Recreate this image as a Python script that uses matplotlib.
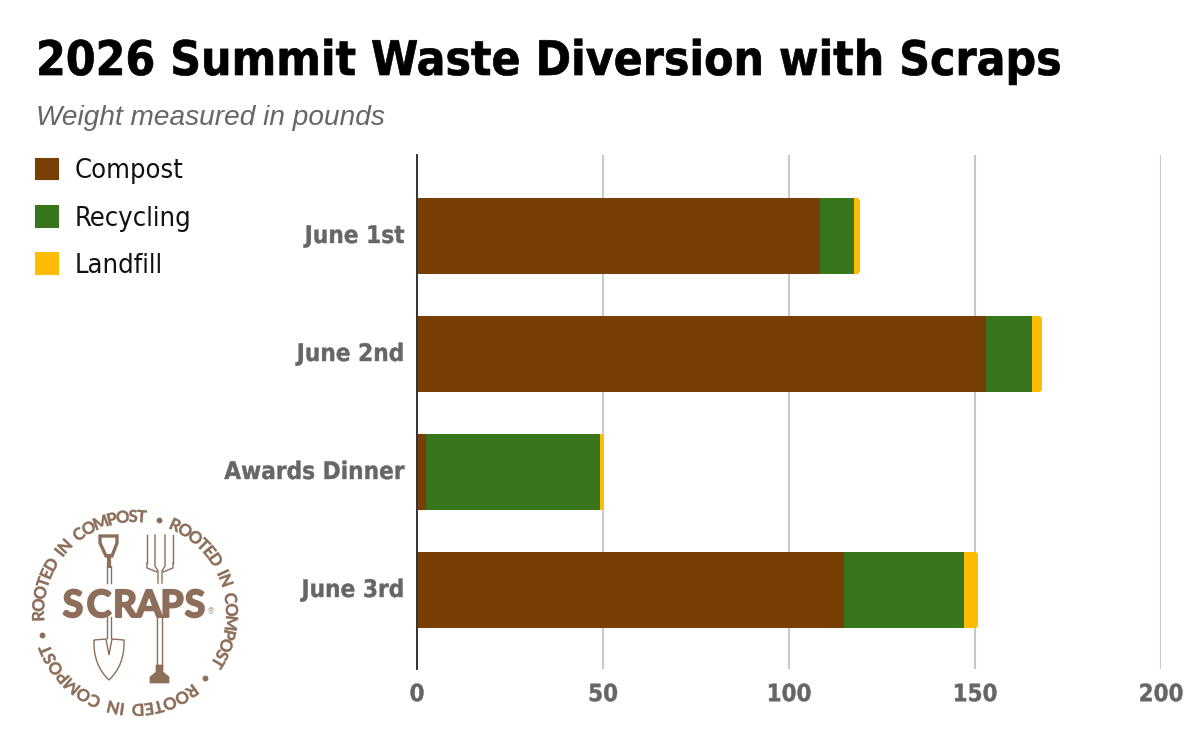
import math
import matplotlib
matplotlib.use('Agg')
import matplotlib.pyplot as plt
import matplotlib.patheffects as pe
from matplotlib.patches import Patch, FancyBboxPatch, Polygon, PathPatch
from matplotlib.path import Path
from matplotlib.transforms import IdentityTransform, ScaledTranslation

# Waste weights per event, in pounds
events = ['June 1st', 'June 2nd', 'Awards Dinner', 'June 3rd']
compost = [108.3, 153.0, 2.5, 114.8]
recycling = [9.2, 12.4, 46.7, 32.3]
landfill = [1.6, 2.6, 1.1, 3.7]
x_ticks = [0, 50, 100, 150, 200]

BROWN = '#783f04'
GREEN = '#38761d'
YELLOW = '#ffbc05'
GREY = '#666666'
LOGO = '#8d6e5a'

W, H = 1198, 748
plt.rcParams['font.family'] = ['DejaVu Sans']
fig = plt.figure(figsize=(W / 100, H / 100), dpi=100, facecolor='white')


def px(x, y):
    return x / W, 1 - y / H


def heavy(color, width):
    # fill and outline the glyph path to thicken it
    return [pe.Stroke(linewidth=width, foreground=color)]


# Main axes, placed by pixel edges
left, right, top, bottom = 417, 1161, 155, 669
ax = fig.add_axes([left / W, 1 - bottom / H, (right - left) / W, (bottom - top) / H])
ax.set_xlim(0, 200)
ax.set_ylim(3 + (bottom - 590) / 118, -(236 - top) / 118)

y_pos = list(range(len(events)))
bar_h = 76 / 118
stack2 = [c + r for c, r in zip(compost, recycling)]
totals = [s + l for s, l in zip(stack2, landfill)]

ax.barh(y_pos, compost, height=bar_h, color=BROWN, zorder=3, linewidth=0)
ax.barh(y_pos, recycling, left=compost, height=bar_h, color=GREEN, zorder=3, linewidth=0)
landfill_bars = ax.barh(y_pos, landfill, left=stack2, height=bar_h, color=YELLOW, zorder=3, linewidth=0)

# Round only the outer end of each stack
for bar, total, y in zip(landfill_bars, totals, y_pos):
    (x0, y0) = ax.transData.transform((total - 20, y + bar_h / 2))
    (x1, y1) = ax.transData.transform((total, y - bar_h / 2))
    r = 3
    clip = FancyBboxPatch((x0 + r, y0 + r), x1 - x0 - 2 * r, y1 - y0 - 2 * r,
                          boxstyle='round,pad=%d,rounding_size=%d' % (r, r),
                          transform=IdentityTransform())
    bar.set_clip_path(clip)

ax.set_xticks(x_ticks)
ax.set_yticks(y_pos)
ax.set_yticklabels(events)
ax.grid(axis='x', color='#c8c8c8', linewidth=1.5, zorder=0)
ax.set_axisbelow(True)
for name in ['top', 'right', 'bottom']:
    ax.spines[name].set_visible(False)
ax.spines['left'].set_color('#333333')
ax.spines['left'].set_linewidth(1.4)
ax.spines['left'].set_zorder(4)
ax.tick_params(length=0)
ax.tick_params(axis='x', pad=9.5, labelsize=17.2, labelcolor=GREY)
ax.tick_params(axis='y', pad=9, labelsize=17.4, labelcolor=GREY)
for label in ax.get_xticklabels() + ax.get_yticklabels():
    label.set_fontweight('bold')
    label.set_stretch('condensed')
    label.set_path_effects(heavy(GREY, 0.3))
# category labels sit slightly above the bar centre
lift = ScaledTranslation(0, 2.5 / 100, fig.dpi_scale_trans)
for label in ax.get_yticklabels():
    label.set_transform(label.get_transform() + lift)

# Headings
fig.text(*px(36, 75), '2026 Summit Waste Diversion with Scraps', fontsize=34.3, fontweight='bold',
         stretch='condensed', color='black', ha='left', va='baseline', path_effects=heavy('black', 0.5))
fig.text(*px(36, 125), 'Weight measured in pounds', fontsize=20.2, style='italic',
         family=['Liberation Sans'], color=GREY, ha='left', va='baseline')

# Legend
handles = [Patch(facecolor=c, edgecolor=c, linewidth=1.5, joinstyle='round') for c in (BROWN, GREEN, YELLOW)]
leg = fig.legend(handles, ['Compost', 'Recycling', 'Landfill'], loc='upper left',
                 bbox_to_anchor=px(12, 134), frameon=False,
                 prop={'family': 'DejaVu Sans', 'stretch': 'condensed', 'size': 19.5},
                 handlelength=0.81, handleheight=0.81, handletextpad=0.6, labelspacing=0.79,
                 labelcolor='#111111')

# Logo drawn in pixel space
lax = fig.add_axes([0, 0, 1, 1], zorder=5)
lax.set_xlim(0, W)
lax.set_ylim(H, 0)
lax.axis('off')
lax.patch.set_alpha(0)

cx, cy, rad = 135, 613, 96
glyph_w = {'R': 0.62, 'O': 0.78, 'T': 0.56, 'E': 0.56, 'D': 0.72, ' ': 0.42, 'I': 0.3,
           'N': 0.74, 'C': 0.68, 'M': 0.88, 'P': 0.58, 'S': 0.52}


def ring_text(text, start_deg, end_deg):
    # one glyph at a time around the circle, spaced by rough glyph width
    widths = [glyph_w[ch] for ch in text]
    span = sum(widths) - widths[0] / 2 - widths[-1] / 2
    pos = 0
    for i, ch in enumerate(text):
        deg = start_deg + (end_deg - start_deg) * pos / span
        a = math.radians(deg)
        lax.text(cx + rad * math.sin(a), cy - rad * math.cos(a), ch, fontsize=12, fontweight='bold',
                 color=LOGO, rotation=-deg, rotation_mode='anchor', ha='center', va='center',
                 family=['Lato', 'DejaVu Sans'], path_effects=heavy(LOGO, 0.3))
        if i < len(text) - 1:
            pos += widths[i] / 2 + widths[i + 1] / 2


phrase = 'ROOTED IN COMPOST'
ring_text(phrase, -92, 4)
ring_text(phrase, 24.5, 121)
ring_text(phrase, 143.7, 247.4)
for deg in [14.6, 133, 256.7]:
    a = math.radians(deg)
    lax.plot(cx + rad * math.sin(a), cy - rad * math.cos(a), 'o', ms=3.2, color=LOGO)

# wordmark, letter by letter for the wide tracking
for ch, x in zip('SCRAPS', [73, 99, 125, 149, 172, 195]):
    lax.text(x, 606, ch, fontsize=27, fontweight='bold', color=LOGO, ha='center', va='center',
             family=['Lato', 'DejaVu Sans'], path_effects=heavy(LOGO, 1.4))
lax.text(211, 612, '\u00ae', fontsize=6, color='#b09a8c', ha='center', va='center')

# spade grip, shaft and blade
lax.add_patch(Polygon([(100, 536), (117, 536), (117, 543), (112, 556), (106, 556), (100, 543)],
                      closed=True, fc='none', ec=LOGO, lw=2.4))
lax.plot([109, 109], [556, 566], color=LOGO, lw=3)
lax.plot([107, 107], [566, 583], color=LOGO, lw=1)
lax.plot([111, 111], [566, 583], color=LOGO, lw=1)
lax.plot([107, 107], [617, 638], color=LOGO, lw=1)
lax.plot([111, 111], [617, 638], color=LOGO, lw=1)
blade_pts = [(94, 640), (106, 639), (109, 655), (112, 639), (124, 640), (125, 665), (109, 680), (93, 665), (94, 640)]
blade_codes = [Path.MOVETO, Path.LINETO, Path.LINETO, Path.LINETO, Path.LINETO,
               Path.CURVE3, Path.CURVE3, Path.CURVE3, Path.CURVE3]
lax.add_patch(PathPatch(Path(blade_pts, blade_codes), fc='none', ec=LOGO, lw=1))

# fork tines and shaft
for x in [147, 173]:
    lax.plot([x, x], [535, 563], color=LOGO, lw=1)
lax.plot([147, 147, 157], [563, 568, 572], color=LOGO, lw=1)
lax.plot([173, 173, 163], [563, 568, 572], color=LOGO, lw=1)
lax.plot([155, 155, 158, 158], [535, 566, 571, 583], color=LOGO, lw=1)
lax.plot([165, 165, 162, 162], [535, 566, 571, 583], color=LOGO, lw=1)
lax.plot([157, 157], [617, 665], color=LOGO, lw=1)
lax.plot([162, 162], [617, 665], color=LOGO, lw=1)
lax.add_patch(Polygon([(156, 665), (163, 665), (163, 672), (169, 677), (169, 683), (150, 683), (150, 677), (156, 672)],
                      closed=True, fc=LOGO, ec=LOGO, lw=0.5))

fig.savefig('out.png', dpi=100)
